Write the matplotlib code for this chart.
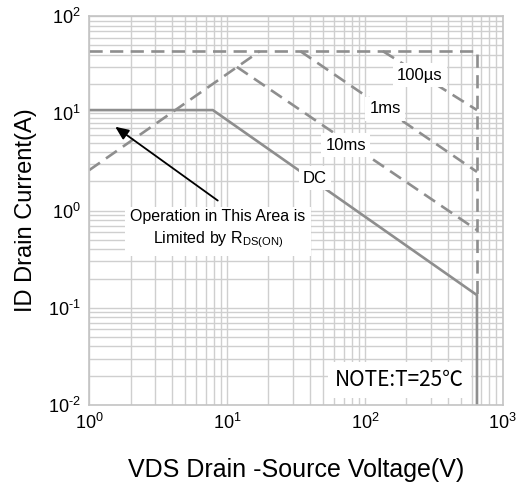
import matplotlib
matplotlib.use("Agg")
import matplotlib.pyplot as plt
from matplotlib.ticker import FuncFormatter
import math

plt.rcParams['font.family'] = ['Liberation Sans', 'DejaVu Sans']
plt.rcParams['mathtext.fontset'] = 'custom'
plt.rcParams['mathtext.rm'] = 'Liberation Sans'
plt.rcParams['mathtext.it'] = 'Liberation Sans:italic'

# safe operating area curves (V, A)
rds_v = [1, 17.3]
rds_i = [2.6, 43.6]
top_v = [1, 650, 650]
top_i = [43.6, 43.6, 0.135]
us100_v = [135, 650]
us100_i = [43.6, 10.8]
ms1_v = [34, 650]
ms1_i = [43.6, 2.5]
ms10_v = [11.8, 650]
ms10_i = [30, 0.63]
dc_v = [1, 7.9, 650, 650]
dc_i = [10.8, 10.8, 0.135, 0.01]

curve_labels = ['100µs', '1ms', '10ms', 'DC']
label_v = [251, 140, 72.8, 43.4]
label_i = [24.7, 11.1, 4.72, 2.16]


def pow10(val, pos):
    e = int(round(math.log10(val)))
    exp = '\\text{-}%d' % -e if e < 0 else '%d' % e
    return '$\\mathregular{10^{%s}}$' % exp


fig = plt.figure(figsize=(5.21, 4.88), dpi=100)
ax = fig.add_axes([0.171, 0.170, 0.794, 0.797])

ax.set_xscale('log')
ax.set_yscale('log')
ax.set_xlim(1, 1000)
ax.set_ylim(0.01, 100)
ax.xaxis.set_major_formatter(FuncFormatter(pow10))
ax.yaxis.set_major_formatter(FuncFormatter(pow10))

ax.grid(True, which='both', color='#cfcfcf', linewidth=1.0)
for s in ax.spines.values():
    s.set_color('#c4c4c4')
    s.set_linewidth(1.2)
ax.tick_params(which='both', length=0, labelsize=13, pad=6)

gray = '#8e8e8e'
dash = (5, 2.8)
ax.plot(rds_v, rds_i, color=gray, lw=1.9, dashes=dash)
ax.plot(top_v, top_i, color=gray, lw=1.9, dashes=dash)
ax.plot(us100_v, us100_i, color=gray, lw=1.9, dashes=dash)
ax.plot(ms1_v, ms1_i, color=gray, lw=1.9, dashes=dash)
ax.plot(ms10_v, ms10_i, color=gray, lw=1.9, dashes=dash)
ax.plot(dc_v, dc_i, color=gray, lw=1.9)

for lab, x, y in zip(curve_labels, label_v, label_i):
    ax.text(x, y, lab, ha='center', va='center', fontsize=12,
            bbox=dict(facecolor='white', edgecolor='none', pad=3))

ax.text(8.6, 0.64, 'Operation in This Area is\nLimited by R$_{\\mathrm{DS(ON)}}$',
        ha='center', va='center', fontsize=11.5, linespacing=1.4,
        bbox=dict(facecolor='white', edgecolor='none', pad=4))
ax.annotate('', xy=(1.49, 7.56), xytext=(8.9, 1.22),
            arrowprops=dict(arrowstyle='-|>,head_length=0.8,head_width=0.35',
                            color='black', lw=1.3))

ax.text(179, 0.018, 'NOTE:T=25℃', ha='center', va='center', fontsize=15,
        family=['Noto Sans CJK SC', 'DejaVu Sans'],
        bbox=dict(facecolor='white', edgecolor='none', pad=5))

ax.set_xlabel('VDS Drain -Source Voltage(V)', fontsize=18, labelpad=18)
ax.set_ylabel('ID Drain Current(A)', fontsize=17, labelpad=8)

fig.savefig('out.png', dpi=100)
